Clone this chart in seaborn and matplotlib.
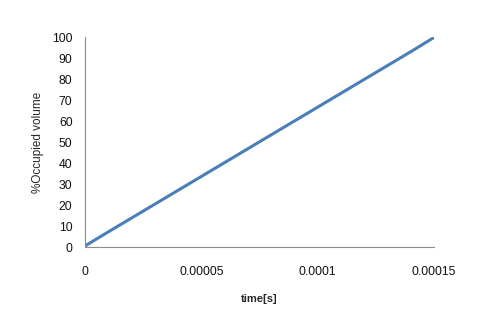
import matplotlib
matplotlib.use("Agg")
import matplotlib.pyplot as plt
import seaborn as sns
import pandas as pd

time_s = [0, 0.00001, 0.00002, 0.00003, 0.00004, 0.00005, 0.00006, 0.00007,
          0.00008, 0.00009, 0.00010, 0.00011, 0.00012, 0.00013, 0.00014, 0.00015]
occupied = [0.5, 7.2, 13.8, 20.4, 27.0, 33.6, 40.2, 46.8,
            53.4, 60.0, 66.6, 73.2, 79.8, 86.4, 93.0, 99.8]
x_ticks = [0, 0.00005, 0.0001, 0.00015]
x_tick_labels = ["0", "0.00005", "0.0001", "0.00015"]
y_ticks = list(range(0, 101, 10))

sns.set_style("white")
plt.rcParams['font.family'] = ['Liberation Sans', 'DejaVu Sans']

df = pd.DataFrame({"time": time_s, "occ": occupied})
fig = plt.figure(figsize=(4.98, 3.10), dpi=100)
ax = fig.add_axes([0.1707, 0.2032, 0.7008, 0.6774])
sns.lineplot(data=df, x="time", y="occ", ax=ax, color="#4A7EBB", linewidth=2.2)

ax.set_xlim(0, 0.00015)
ax.set_ylim(0, 100)
ax.set_xticks(x_ticks)
ax.set_xticklabels(x_tick_labels)
ax.set_yticks(y_ticks)
ax.tick_params(axis='both', length=0, labelsize=8.8, colors="#111111")
ax.tick_params(axis='x', pad=14)
ax.tick_params(axis='y', pad=9)
for s in ["top", "right"]:
    ax.spines[s].set_visible(False)
for s in ["left", "bottom"]:
    ax.spines[s].set_color("#8c8c8c")
    ax.spines[s].set_linewidth(0.8)
ax.set_xlabel("time[s]", fontsize=8, fontweight="bold", labelpad=11)
ax.set_ylabel("%Occupied volume", fontsize=8.5, labelpad=6)
fig.savefig("out.png", dpi=100)
